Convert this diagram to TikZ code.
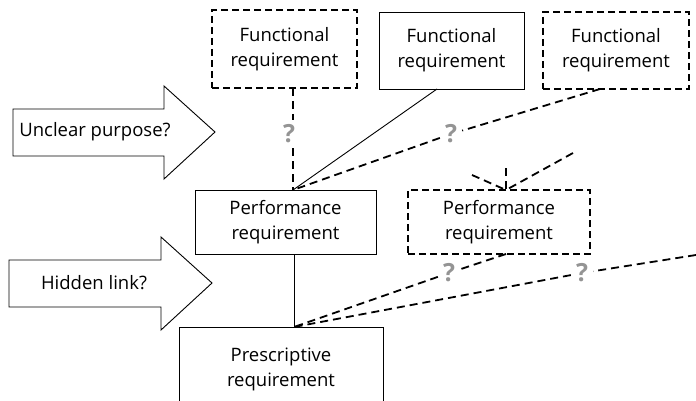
\documentclass[tikz,border=0pt]{standalone}
\usepackage{fontspec}
\setmainfont{Open Sans}
\begin{document}
\begin{tikzpicture}[x=1pt,y=-1pt,
  txt/.style={font=\fontsize{18.5}{25}\selectfont, align=center, inner sep=0pt},
  solidbox/.style={draw, line width=0.9pt, rectangle, txt},
  dashbox/.style={draw, line width=1.8pt, dash pattern=on 7pt off 4pt, rectangle, txt},
  conn/.style={line width=0.9pt},
  dconn/.style={line width=1.8pt, dash pattern=on 8pt off 5pt},
  qmark/.style={font=\fontsize{25}{25}\selectfont\bfseries, text=black!42, inner sep=5pt},
  bigarrow/.style={draw, line width=0.9pt, fill=white},
]
\useasboundingbox (0,0) rectangle (696,401);

% boxes
\node[dashbox, minimum width=145pt, minimum height=78pt] (F1) at (284.5,49) {Functional\\requirement};
\node[solidbox, minimum width=145pt, minimum height=77pt] (F2) at (451.5,50.5) {Functional\\requirement};
\node[dashbox, minimum width=146pt, minimum height=77pt] (F3) at (616,50.5) {Functional\\requirement};
\node[solidbox, minimum width=181pt, minimum height=64pt] (P1) at (285.5,222) {Performance\\requirement};
\node[dashbox, minimum width=182pt, minimum height=64pt] (P2) at (499,222) {Performance\\requirement};
\node[solidbox, minimum width=204pt, minimum height=84pt] (PR) at (281,369) {Prescriptive\\requirement};

% block arrows
\draw[bigarrow] (13,109) -- (164,109) -- (164,86) -- (215,132) -- (164,179) -- (164,156) -- (13,156) -- cycle;
\node[txt] (UP) at (95,132) {Unclear purpose?};
\draw[bigarrow] (9,260) -- (161,260) -- (161,237) -- (212,283) -- (161,330) -- (161,307) -- (9,307) -- cycle;
\node[txt] (HL) at (94,283) {Hidden link?};

% question marks
\node[qmark] (q1) at (289,134) {?};
\node[qmark] (q2) at (451,134) {?};
\node[qmark] (q3) at (449,273) {?};
\node[qmark] (q4) at (582,273) {?};

% attach points
\coordinate (f1out) at (293,88);
\coordinate (f2out) at (437,89);
\coordinate (f3out) at (600,89);
\coordinate (p1in) at (293,190);
\coordinate (p1out) at (294,254);
\coordinate (p2in) at (506,190);
\coordinate (p2out) at (506,254);
\coordinate (prin) at (294,327);
\coordinate (d1) at (506,168);
\coordinate (d2) at (472,175);
\coordinate (d3) at (573,153);
\coordinate (d4) at (696,255);

% connectors
\draw[dconn] (f1out) -- (q1.north -| f1out);
\draw[dconn] (q1.south -| f1out) -- (p1in);
\draw[conn] (f2out) -- (p1in);
\draw[dconn] (f3out) -- (q2);
\draw[dconn] (q2) -- (p1in);
\draw[dconn] (d1) -- (p2in);
\draw[dconn] (d2) -- (p2in);
\draw[dconn] (d3) -- (p2in);
\draw[conn] (p1out) -- (prin);
\draw[dconn] (p2out) -- (q3);
\draw[dconn] (q3) -- (prin);
\draw[dconn] (d4) -- (q4);
\draw[dconn] (q4) -- (prin);
\end{tikzpicture}
\end{document}
